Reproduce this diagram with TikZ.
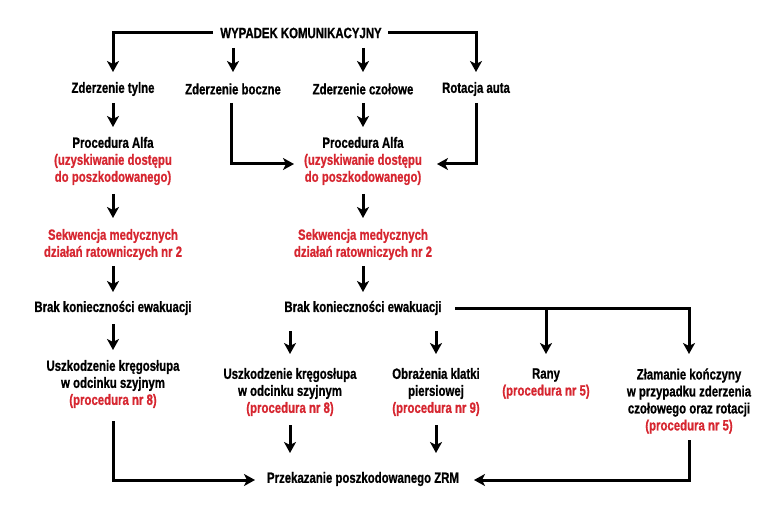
\documentclass[tikz,border=0pt]{standalone}
\usepackage{fontspec}
\setmainfont{Liberation Sans}[FakeStretch=0.76,FakeBold=0.8]
\usetikzlibrary{arrows.meta}
\definecolor{rd}{RGB}{214,38,48}
\begin{document}
\begin{tikzpicture}[x=1pt,y=-1pt,
  t/.style={inner sep=0pt, align=center, font=\fontsize{15}{17}\selectfont\bfseries},
  arr/.style={draw, line width=3pt, line join=miter, -{Stealth[length=11pt,width=12pt,inset=3pt]}}]
\useasboundingbox (0,0) rectangle (781,521);
\node[t] (title) at (301,33) {WYPADEK KOMUNIKACYJNY};
\node[t] (tylne) at (113,89) {Zderzenie tylne};
\node[t] (boczne) at (233,89) {Zderzenie boczne};
\node[t] (czol) at (363,89) {Zderzenie czołowe};
\node[t] (rot) at (476,89) {Rotacja auta};
\node[t] (alfa1) at (113,161) {Procedura Alfa\\\textcolor{rd}{(uzyskiwanie dostępu}\\\textcolor{rd}{do poszkodowanego)}};
\node[t] (alfa2) at (363,161) {Procedura Alfa\\\textcolor{rd}{(uzyskiwanie dostępu}\\\textcolor{rd}{do poszkodowanego)}};
\node[t,text=rd] (sek1) at (113,244.5) {Sekwencja medycznych\\działań ratowniczych nr 2};
\node[t,text=rd] (sek2) at (363,244.5) {Sekwencja medycznych\\działań ratowniczych nr 2};
\node[t] (brak1) at (113,308) {Brak konieczności ewakuacji};
\node[t] (brak2) at (363,308) {Brak konieczności ewakuacji};
\coordinate (bus) at (363,308);
\node[t] (uszk1) at (113,384) {Uszkodzenie kręgosłupa\\w odcinku szyjnym\\\textcolor{rd}{(procedura nr 8)}};
\node[t] (uszk2) at (290,392) {Uszkodzenie kręgosłupa\\w odcinku szyjnym\\\textcolor{rd}{(procedura nr 8)}};
\node[t] (obr) at (436,392) {Obrażenia klatki\\piersiowej\\\textcolor{rd}{(procedura nr 9)}};
\node[t] (rany) at (546,383.5) {Rany\\\textcolor{rd}{(procedura nr 5)}};
\node[t] (zlam) at (689,401) {Złamanie kończyny\\w przypadku zderzenia\\czołowego oraz rotacji\\\textcolor{rd}{(procedura nr 5)}};
\node[t] (przek) at (363,479) {Przekazanie poszkodowanego ZRM};
% connectors
\draw[arr, shorten <=88pt, shorten >=17pt] (title.center) -| (tylne.center);
\draw[arr, shorten <=87pt, shorten >=17pt] (title.center) -| (rot.center);
\draw[arr, shorten <=15pt, shorten >=17pt] (boczne.center |- title.center) -- (boczne.center);
\draw[arr, shorten <=15pt, shorten >=17pt] (czol.center |- title.center) -- (czol.center);
\draw[arr, shorten <=14pt, shorten >=34pt] (tylne.center) -- (alfa1.center);
\draw[arr, shorten <=14pt, shorten >=34pt] (czol.center) -- (alfa2.center);
\draw[arr, shorten <=14pt, shorten >=69pt] ([xshift=-2pt]boczne.center) |- ([yshift=-3pt]alfa2.center);
\draw[arr, shorten <=14pt, shorten >=74pt] (rot.center) |- ([yshift=-3pt]alfa2.center);
\draw[arr, shorten <=33pt, shorten >=26.5pt] (alfa1.center) -- (sek1.center);
\draw[arr, shorten <=33pt, shorten >=26.5pt] (alfa2.center) -- (sek2.center);
\draw[arr, shorten <=21.5pt, shorten >=16pt] (sek1.center) -- (brak1.center);
\draw[arr, shorten <=21.5pt, shorten >=16pt] (sek2.center) -- (brak2.center);
\draw[arr, shorten <=16pt, shorten >=34pt] (brak1.center) -- (uszk1.center);
\draw[arr, shorten <=92pt, shorten >=47pt] (bus) -| (zlam.center);
\draw[arr, shorten >=29.5pt] (rany.center |- bus) -- (rany.center);
\draw[arr, shorten <=23pt, shorten >=38pt] (uszk2.center |- brak2.center) -- (uszk2.center);
\draw[arr, shorten <=23pt, shorten >=38pt] (obr.center |- brak2.center) -- (obr.center);
\draw[arr, shorten <=33pt, shorten >=26pt] (uszk2.center) -- (uszk2.center |- przek.center);
\draw[arr, shorten <=33pt, shorten >=26pt] (obr.center) -- (obr.center |- przek.center);
\draw[arr, shorten <=37pt, shorten >=108pt] (uszk1.center) |- ([yshift=-1pt]przek.center);
\draw[arr, shorten <=39pt, shorten >=111pt] (zlam.center) |- ([yshift=-1pt]przek.center);
\end{tikzpicture}
\end{document}
